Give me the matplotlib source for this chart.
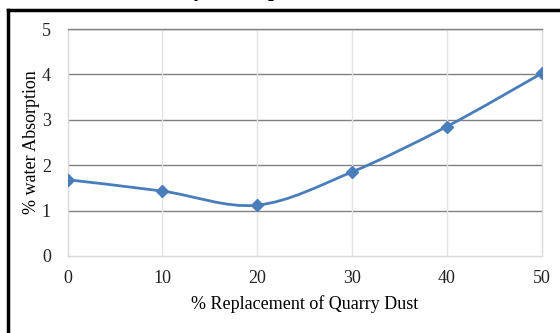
import matplotlib
matplotlib.use('Agg')
import matplotlib.pyplot as plt
from matplotlib.path import Path
from matplotlib.patches import PathPatch
from matplotlib.lines import Line2D
import numpy as np

replacement = [0, 10, 20, 30, 40, 50]
absorption = [1.68, 1.43, 1.12, 1.85, 2.85, 4.02]
y_ticks = [0, 1, 2, 3, 4, 5]

blue = '#4a7ebb'
plt.rcParams['font.family'] = ['Liberation Serif', 'DejaVu Serif']

fig = plt.figure(figsize=(5.6, 3.33), dpi=100)
ax = fig.add_axes([67.5 / 560, 77 / 333, 474 / 560, 227 / 333])


# smoothed line like a spreadsheet chart: cubic bezier through the points
def smooth_path(xs, ys):
    pts = np.column_stack([xs, ys]).astype(float)
    n = len(pts)
    verts = [pts[0]]
    codes = [Path.MOVETO]
    for i in range(n - 1):
        p0 = pts[max(i - 1, 0)]
        p1 = pts[i]
        p2 = pts[i + 1]
        p3 = pts[min(i + 2, n - 1)]
        c1 = p1 + (p2 - p0) / 6
        c2 = p2 - (p3 - p1) / 6
        verts += [c1, c2, p2]
        codes += [Path.CURVE4] * 3
    return Path(verts, codes)


ax.add_patch(PathPatch(smooth_path(replacement, absorption), facecolor='none',
                       edgecolor=blue, lw=2, zorder=3))
ax.plot(replacement, absorption, ls='none', marker='D', ms=6, color=blue, zorder=4)

ax.set_xlim(0, 50)
ax.set_ylim(0, 5)
ax.set_xticks(replacement)
ax.set_yticks(y_ticks)
ax.tick_params(length=0, labelsize=13, colors='#222222')
ax.tick_params(axis='x', pad=10)
ax.tick_params(axis='y', pad=12)

for v in y_ticks[1:]:
    ax.axhline(v, color='#808080', lw=1, zorder=1)
for v in replacement[1:-1]:
    ax.axvline(v, color='#e3e3e3', lw=1, zorder=1)
for s in ax.spines.values():
    s.set_color('#d9d9d9')
    s.set_linewidth(1)
ax.spines['top'].set_color('#808080')

ax.set_xlabel('% Replacement of Quarry Dust', fontsize=13, labelpad=6)
ax.set_ylabel('% water Absorption', fontsize=13, labelpad=1.5)

# title sits above the frame, only its descenders reach into the figure
fig.text(0.447, 1.012, 'Quarry dust replacement', fontsize=15, fontweight='bold',
         fontstyle='italic', ha='center', va='baseline')

# outer frame
fig.add_artist(Line2D([8 / 560, 8 / 560], [0, 1 - 10 / 333], transform=fig.transFigure,
                      color='black', lw=2.5))
fig.add_artist(Line2D([8 / 560, 1], [1 - 10 / 333, 1 - 10 / 333], transform=fig.transFigure,
                      color='black', lw=2.5))

fig.savefig('out.png', dpi=100)
